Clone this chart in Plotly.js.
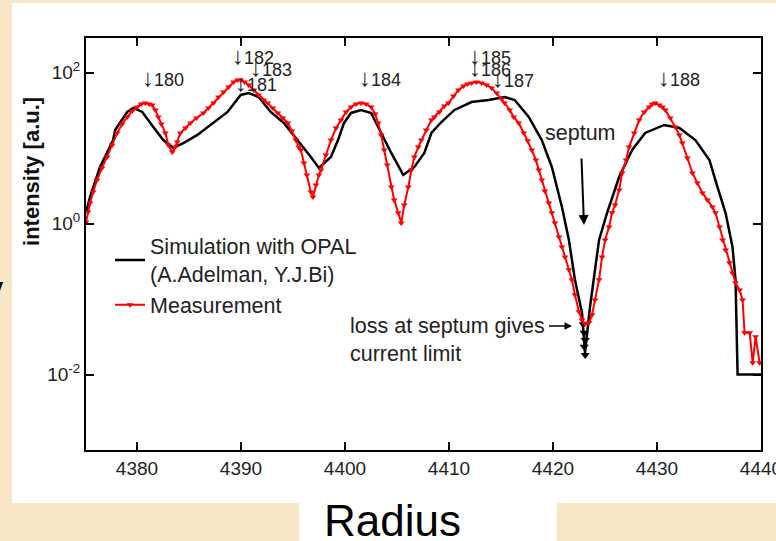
<!DOCTYPE html>
<html>
<head>
<meta charset="utf-8">
<script src="https://cdn.plot.ly/plotly-3.0.1.min.js"></script>
<style>html,body{margin:0;padding:0;background:#f7e7c6;}#chart{width:776px;height:541px;}</style>
</head>
<body>
<div id="chart"></div>
<script>
// Simulation with OPAL (black line)
const simX = [4375.10,4375.49,4376.45,4377.71,4377.90,4379.06,4379.64,4380.51,4381.57,4382.53,4383.50,4384.46,4385.81,4387.36,4388.71,4389.97,4390.74,4391.70,4392.86,4394.12,4395.47,4396.72,4397.49,4398.65,4399.33,4399.91,4400.58,4401.55,4402.51,4403.48,4404.45,4405.60,4406.67,4407.63,4408.31,4409.27,4410.53,4412.17,4413.81,4415.35,4416.32,4417.67,4418.92,4419.89,4420.86,4421.53,4422.11,4422.79,4423.08,4423.56,4424.43,4425.20,4426.36,4427.61,4428.86,4430.70,4432.15,4433.69,4435.04,4435.81,4436.59,4437.26,4437.55,4437.75,4440.00];
const simY = [1.39,2.26,5.64,12.8,17.4,30.2,34.1,30.2,19.1,12.8,10.1,11.7,15.0,21.6,30.2,50.7,53.8,47.7,30.2,21.6,12.8,7.64,5.47,7.64,12.8,21.6,29.3,32.1,29.3,15.9,8.64,4.42,5.64,8.64,15.9,22.2,32.1,40.9,43.5,47.7,43.5,25.9,12.8,5.64,1.66,0.608,0.180,0.0656,0.0194,0.0788,0.608,1.39,4.15,9.47,15.9,20.3,18.5,12.8,6.98,3.06,1.39,0.491,0.180,0.01,0.01];
// loss at septum (black markers)
const lossX = [4422.9,4423.0,4423.1,4423.0,4423.1];
const lossY = [0.0465,0.0357,0.0288,0.0233,0.0182];
// Measurement (red)
const measX = [4375.10,4375.29,4375.49,4375.78,4376.16,4376.64,4377.13,4377.61,4378.09,4378.58,4379.06,4379.54,4380.02,4380.41,4380.80,4381.18,4381.47,4381.76,4382.05,4382.34,4382.73,4383.02,4383.40,4383.69,4383.88,4384.17,4384.66,4385.14,4385.72,4386.39,4386.88,4387.36,4387.84,4388.32,4388.81,4389.29,4389.68,4389.97,4390.35,4390.74,4391.22,4391.70,4392.19,4392.57,4393.05,4393.54,4394.02,4394.50,4394.89,4395.27,4395.56,4395.76,4396.05,4396.34,4396.72,4396.92,4397.21,4397.49,4397.69,4398.17,4398.65,4399.14,4399.62,4400.10,4400.58,4401.07,4401.55,4402.03,4402.51,4402.90,4403.19,4403.48,4403.77,4404.06,4404.45,4404.73,4405.12,4405.41,4405.70,4406.09,4406.38,4406.67,4407.05,4407.34,4407.82,4408.31,4408.60,4409.08,4409.56,4409.95,4410.43,4410.91,4411.40,4411.78,4412.17,4412.65,4413.13,4413.62,4414.10,4414.58,4415.06,4415.35,4415.84,4416.22,4416.70,4417.19,4417.57,4417.96,4418.35,4418.64,4418.92,4419.21,4419.60,4419.89,4420.18,4420.57,4420.86,4421.15,4421.53,4421.82,4422.11,4422.50,4422.79,4423.08,4423.46,4423.75,4424.04,4424.43,4424.72,4425.01,4425.39,4425.68,4425.97,4426.36,4426.65,4427.03,4427.32,4427.81,4428.29,4428.77,4429.25,4429.54,4429.83,4430.22,4430.51,4430.80,4431.28,4431.76,4432.15,4432.44,4432.92,4433.40,4433.88,4434.37,4434.85,4435.33,4435.62,4436.01,4436.30,4436.59,4436.97,4437.26,4437.55,4437.94,4438.23,4438.42,4438.91,4439.20,4439.48,4439.87];
const measY = [1.05,1.43,1.88,2.63,3.79,5.47,7.64,11.0,15.9,20.9,25.9,31.1,35.1,38.5,39.7,38.5,37.3,32.1,25.9,20.9,15.9,11.0,8.90,10.4,12.1,15.9,18.5,21.6,25.1,29.3,34.1,39.7,47.7,55.5,64.6,75.3,80.0,80.0,75.3,68.7,59.0,50.7,43.5,39.7,34.1,29.3,25.1,21.6,16.9,12.8,10.4,9.47,6.37,4.42,2.63,2.26,3.26,4.42,5.14,8.12,12.8,18.5,23.6,30.2,35.1,38.5,39.7,38.5,35.1,28.4,21.6,15.0,9.47,5.99,3.06,2.06,1.39,1.02,1.77,3.06,5.14,7.64,10.4,12.8,17.4,23.6,25.9,30.2,36.2,39.7,49.1,59.0,66.6,70.8,73.0,75.3,73.0,68.7,62.7,53.8,44.8,39.7,32.1,25.9,21.6,15.9,12.5,9.47,6.98,5.14,3.79,2.71,1.88,1.39,1.02,0.667,0.491,0.362,0.244,0.180,0.114,0.0677,0.0530,0.0469,0.0484,0.0618,0.0976,0.180,0.362,0.608,0.904,1.39,1.77,2.80,4.69,6.98,10.4,15.9,23.6,30.2,35.1,38.5,39.7,37.3,35.1,32.1,25.1,19.1,15.0,11.7,7.42,4.69,3.46,2.55,2.06,1.66,1.39,0.904,0.608,0.448,0.302,0.222,0.164,0.132,0.0976,0.0357,0.0357,0.0143,0.0316,0.0143];
// turn labels
const turnLabels = ['180','182','181','183','184','185','186','187','188'];
const turnPosX = [0.080,0.2133,0.2178,0.240,0.4015,0.5644,0.5644,0.5985,0.8444];
const turnPosY = [0.905,0.9587,0.8932,0.9272,0.9053,0.9587,0.9272,0.9029,0.9053];
const yTickVals = [0.01, 1, 100];
const yTickText = ['10<sup>-2</sup>','10<sup>0</sup>','10<sup>2</sup>'];
const xTickVals = [4380,4390,4400,4410,4420,4430,4440];

const ARIAL = 'Liberation Sans, Arial, sans-serif';

const traces = [
  {x: simX, y: simY, type:'scatter', mode:'lines', name:'Simulation with OPAL<br>(A.Adelman, Y.J.Bi)',
   line:{color:'#000000', width:2.5}},
  {x: lossX, y: lossY, type:'scatter', mode:'markers', showlegend:false, hoverinfo:'skip',
   marker:{symbol:'triangle-down', size:8, color:'#000000'}},
  {x: measX, y: measY, type:'scatter', mode:'lines+markers', name:'Measurement',
   line:{color:'#ff0000', width:2}, marker:{symbol:'triangle-down', size:6, color:'#ff0000'}}
];

const annotations = turnLabels.map((t,i)=>({
  text:'<span style="font-size:24px">↓</span>' + t, xref:'paper', yref:'paper', x:turnPosX[i], y:turnPosY[i],
  xanchor:'left', yanchor:'middle', showarrow:false, font:{family:ARIAL, size:18, color:'#222'}
}));
annotations.push(
  {text:'septum', xref:'paper', yref:'paper', x:0.7378, y:0.5461, ax:-3.5, ay:-92, showarrow:true,
   arrowhead:2, arrowsize:1, arrowwidth:2, arrowcolor:'#000', startstandoff:12,
   font:{family:ARIAL, size:21.5, color:'#222'}},
  {text:'loss at septum gives<br>current limit', xref:'paper', yref:'paper', x:0.3881, y:0.267,
   xanchor:'left', yanchor:'middle', align:'left', showarrow:false, font:{family:ARIAL, size:21.5, color:'#222'}},
  {text:' ', xref:'paper', yref:'paper', x:0.72, y:0.301, ax:-25, ay:0, showarrow:true,
   arrowhead:2, arrowsize:1, arrowwidth:1.5, arrowcolor:'#000', font:{size:4}},
  {text:'intensity [a.u.]', xref:'paper', yref:'paper', x:-0.08, y:0.6748, textangle:-90,
   xanchor:'center', yanchor:'middle',
   showarrow:false, font:{family:ARIAL, size:22, color:'#111', weight:'bold'}},
  {text:'Radius', xref:'paper', yref:'paper', x:0.4548, y:-0.1723, xanchor:'center', yanchor:'middle',
   showarrow:false, font:{family:ARIAL, size:44, color:'#000'}},
  {text:'y', xref:'paper', yref:'paper', x:-0.1185, y:0.388, xanchor:'right', yanchor:'middle',
   showarrow:false, font:{family:ARIAL, size:40, color:'#000', weight:'bold'}}
);

const layout = {
  width:776, height:541,
  margin:{l:86, r:15, t:38, b:91},
  paper_bgcolor:'#f7e7c6', plot_bgcolor:'#ffffff',
  showlegend:true,
  legend:{x:0.0356, y:0.545, xanchor:'left', yanchor:'top', bgcolor:'rgba(0,0,0,0)',
          font:{family:ARIAL, size:21.5, color:'#222'}, tracegroupgap:4},
  xaxis:{range:[4375.1,4440], tickvals:xTickVals, ticks:'inside', ticklen:8, tickwidth:2, tickcolor:'#000',
         showline:true, linewidth:2, linecolor:'#000', mirror:'ticks', showgrid:false, zeroline:false,
         tickfont:{family:ARIAL, size:19, color:'#222'}, ticklabelstandoff:0, ticklabeloverflow:'allow'},
  yaxis:{type:'log', range:[-3.0,2.46], tickvals:yTickVals, ticktext:yTickText, ticks:'inside', ticklen:8,
         tickwidth:2, tickcolor:'#000', showline:true, linewidth:2, linecolor:'#000', mirror:'ticks',
         showgrid:false, zeroline:false, tickfont:{family:ARIAL, size:19, color:'#222'}, ticklabelstandoff:0},
  shapes:[
    {type:'rect', xref:'paper', yref:'paper', x0:-0.1096, x1:1.03, y0:-0.1286, y1:1.085,
     fillcolor:'#ffffff', line:{width:0}, layer:'below'},
    {type:'rect', xref:'paper', yref:'paper', x0:0.3156, x1:0.6978, y0:-0.23, y1:-0.12,
     fillcolor:'#ffffff', line:{width:0}, layer:'below'}
  ],
  annotations:annotations
};

Plotly.newPlot('chart', traces, layout, {displayModeBar:false, staticPlot:true});
</script>
</body>
</html>
